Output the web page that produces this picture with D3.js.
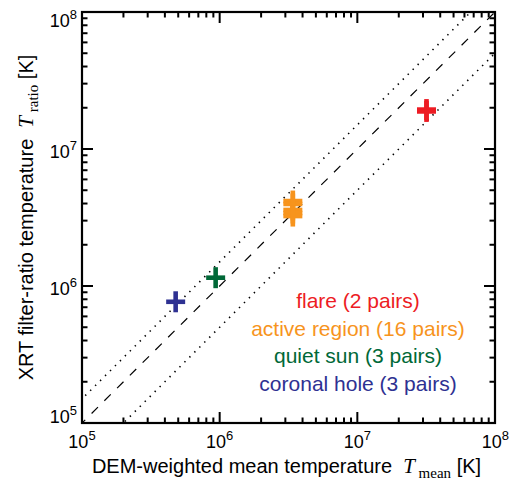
<!DOCTYPE html>
<html><head><meta charset="utf-8">
<script src="https://cdn.jsdelivr.net/npm/d3@7"></script>
<style>
html,body{margin:0;padding:0;background:#fff;}
svg{display:block;}
text{white-space:pre;}
</style></head>
<body>
<svg id="chart" width="511" height="482"></svg>
<script>
// ---- data ----
const categories = ["flare (2 pairs)", "active region (16 pairs)", "quiet sun (3 pairs)", "coronal hole (3 pairs)"];
const categoryColors = ["#ed1c24", "#f7941d", "#006837", "#2e3192"];
const flareTmean = [3.18e7, 3.18e7];
const flareTratio = [1.94e7, 1.88e7];
const activeTmean = [3.4e6, 3.4e6, 3.4e6, 3.4e6, 3.4e6];
const activeTratio = [4.17e6, 3.97e6, 3.59e6, 3.41e6, 3.24e6];
const quietTmean = [9.35e5];
const quietTratio = [1.15e6];
const holeTmean = [4.79e5];
const holeTratio = [7.67e5];
const refRatios = [1, 1.5, 0.5];
const refStyles = ["dashed", "dotted", "dotted"];
const domainT = [1e5, 1e8];
const tickExponents = [5, 6, 7, 8];

// ---- layout ----
const L = 82, R = 495, T = 12, B = 423;
const svg = d3.select("#chart");
const x = d3.scaleLog().domain(domainT).range([L, R]);
const y = d3.scaleLog().domain(domainT).range([B, T]);
const SANS = "'Liberation Sans', Arial, Helvetica, sans-serif";
const SERIF = "'Liberation Serif', 'Times New Roman', serif";

svg.append("clipPath").attr("id", "clip").append("rect")
  .attr("x", L).attr("y", T).attr("width", R - L).attr("height", B - T);

// reference lines
const gRef = svg.append("g").attr("clip-path", "url(#clip)");
refRatios.forEach((r, i) => {
  const pts = [domainT[0] / 2, domainT[1] * 2];
  gRef.append("line")
    .attr("x1", x(pts[0])).attr("y1", y(pts[0] * r))
    .attr("x2", x(pts[1])).attr("y2", y(pts[1] * r))
    .attr("stroke", "#000")
    .attr("stroke-width", refStyles[i] === "dashed" ? 1.2 : 1.6)
    .attr("stroke-dasharray", refStyles[i] === "dashed" ? "9,9" : "1.4,5.6");
});

// points
const series = [
  [flareTmean, flareTratio],
  [activeTmean, activeTratio],
  [quietTmean, quietTratio],
  [holeTmean, holeTratio]
];
const gPts = svg.append("g");
series.forEach((s, i) => {
  s[0].forEach((tm, j) => {
    const cx = x(tm), cy = y(s[1][j]);
    gPts.append("line").attr("x1", cx - 9.5).attr("x2", cx + 9.5).attr("y1", cy).attr("y2", cy)
      .attr("stroke", categoryColors[i]).attr("stroke-width", 4.6);
    gPts.append("line").attr("x1", cx).attr("x2", cx).attr("y1", cy - 10.5).attr("y2", cy + 10.5)
      .attr("stroke", categoryColors[i]).attr("stroke-width", 4.6);
  });
});

// frame
svg.append("rect").attr("x", L).attr("y", T).attr("width", R - L).attr("height", B - T)
  .attr("fill", "none").attr("stroke", "#000").attr("stroke-width", 2.2);

// ticks (inward on all sides)
const majorLen = 11, minorLen = 5.5;
const xt = x.ticks(), yt = y.ticks();
const isMajor = v => Math.abs(Math.log10(v) - Math.round(Math.log10(v))) < 1e-9;
const gT = svg.append("g").attr("stroke", "#000").attr("stroke-width", 2);
xt.forEach(v => {
  const len = isMajor(v) ? majorLen : minorLen;
  gT.append("line").attr("x1", x(v)).attr("x2", x(v)).attr("y1", B).attr("y2", B - len);
  gT.append("line").attr("x1", x(v)).attr("x2", x(v)).attr("y1", T).attr("y2", T + len);
});
yt.forEach(v => {
  const len = isMajor(v) ? majorLen : minorLen;
  gT.append("line").attr("y1", y(v)).attr("y2", y(v)).attr("x1", L).attr("x2", L + len);
  gT.append("line").attr("y1", y(v)).attr("y2", y(v)).attr("x1", R).attr("x2", R - len);
});

// tick labels
tickExponents.forEach((e, i) => {
  const last = i === tickExponents.length - 1;
  const t = svg.append("text")
    .attr("x", last ? 509 : x(Math.pow(10, e)))
    .attr("y", 448)
    .attr("text-anchor", last ? "end" : "middle").attr("font-family", SANS).attr("font-size", 18);
  t.append("tspan").text("10");
  t.append("tspan").attr("dy", -8).attr("font-size", 13).text(String(e));
});
const yLabDy = [0, 9, 9, 15];
tickExponents.forEach((e, i) => {
  const t = svg.append("text").attr("x", 77).attr("y", y(Math.pow(10, e)) + yLabDy[i])
    .attr("text-anchor", "end").attr("font-family", SANS).attr("font-size", 18);
  t.append("tspan").text("10");
  t.append("tspan").attr("dy", -8).attr("font-size", 13).text(String(e));
});

// axis titles
const xt2 = svg.append("text").attr("x", (L + R) / 2 - 2).attr("y", 473)
  .attr("text-anchor", "middle").attr("font-family", SANS).attr("font-size", 20);
xt2.append("tspan").text("DEM-weighted mean temperature  ");
xt2.append("tspan").attr("font-family", SERIF).attr("font-style", "italic").attr("font-size", 21).text("T");
xt2.append("tspan").attr("font-family", SERIF).attr("font-size", 15).attr("dy", 5).text(" mean");
xt2.append("tspan").attr("dy", -5).text(" [K]");

const yt2 = svg.append("text")
  .attr("transform", `translate(33,${(T + B) / 2}) rotate(-90)`)
  .attr("text-anchor", "middle").attr("font-family", SANS).attr("font-size", 20);
yt2.append("tspan").text("XRT filter-ratio temperature  ");
yt2.append("tspan").attr("font-family", SERIF).attr("font-style", "italic").attr("font-size", 21).text("T");
yt2.append("tspan").attr("font-family", SERIF).attr("font-size", 15).attr("dy", 5).text(" ratio");
yt2.append("tspan").attr("dy", -5).text(" [K]");

// legend
categories.forEach((c, i) => {
  svg.append("text").attr("x", 358).attr("y", 308 + i * 27.5)
    .attr("text-anchor", "middle").attr("font-family", SANS).attr("font-size", 21)
    .attr("fill", categoryColors[i]).text(c);
});
</script>
</body></html>
